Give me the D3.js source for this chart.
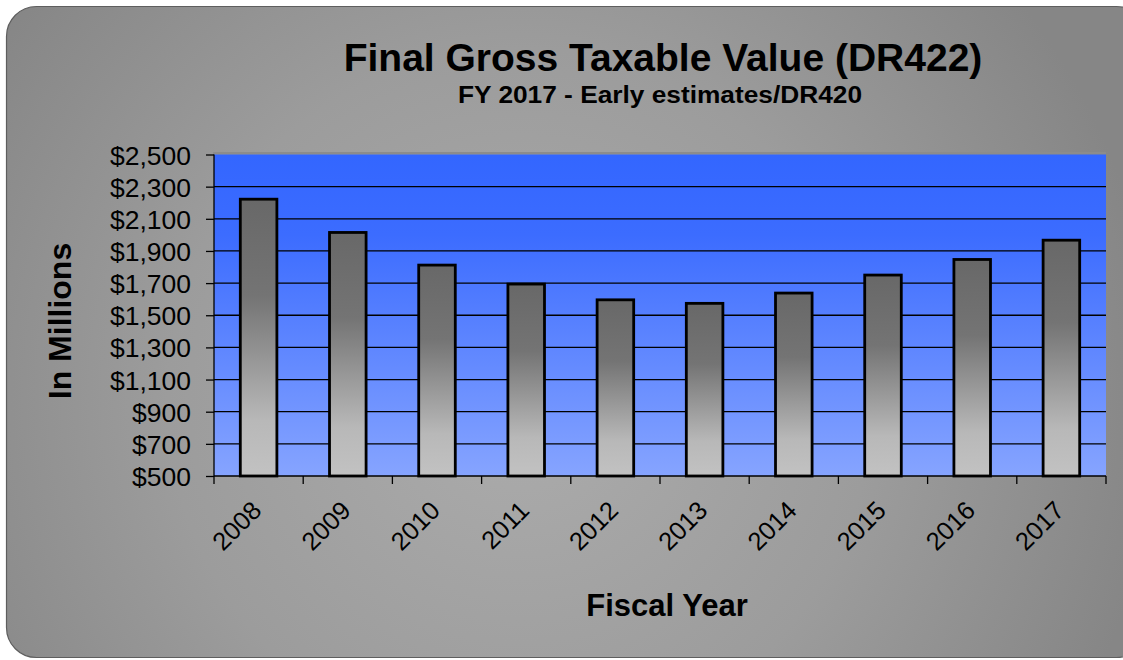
<!DOCTYPE html>
<html>
<head>
<meta charset="utf-8">
<script src="https://cdn.jsdelivr.net/npm/d3@7"></script>
<style>
  html, body { margin: 0; padding: 0; background: #ffffff; }
  svg { display: block; font-family: "Liberation Sans", Arial, sans-serif; }
</style>
</head>
<body>
<svg id="chart" width="1123" height="660"></svg>
<script>
// Final gross taxable value by fiscal year, in millions of dollars
const years = ["2008", "2009", "2010", "2011", "2012", "2013", "2014", "2015", "2016", "2017"];
const values = [2222, 2015, 1812, 1694, 1596, 1574, 1638, 1750, 1847, 1967];
const yTicks = [500, 700, 900, 1100, 1300, 1500, 1700, 1900, 2100, 2300, 2500];

const titleText = "Final Gross Taxable Value (DR422)";
const subtitleText = "FY 2017 - Early estimates/DR420";
const yTitle = "In Millions";
const xTitle = "Fiscal Year";

const svg = d3.select("#chart");
const defs = svg.append("defs");

// panel background: soft grey radial glow
const bg = defs.append("radialGradient").attr("id", "panelGrad")
  .attr("gradientUnits", "userSpaceOnUse")
  .attr("cx", 520).attr("cy", 400).attr("r", 640);
bg.append("stop").attr("offset", "0").attr("stop-color", "#acacac");
bg.append("stop").attr("offset", "0.55").attr("stop-color", "#9c9c9c");
bg.append("stop").attr("offset", "1").attr("stop-color", "#868686");

// plot area: blue, lighter toward the bottom
const plotGrad = defs.append("linearGradient").attr("id", "plotGrad")
  .attr("x1", 0).attr("y1", 0).attr("x2", 0).attr("y2", 1);
plotGrad.append("stop").attr("offset", "0").attr("stop-color", "#3366ff");
plotGrad.append("stop").attr("offset", "0.25").attr("stop-color", "#3c6cff");
plotGrad.append("stop").attr("offset", "1").attr("stop-color", "#86a4ff");

// bars: dark grey top fading to light grey bottom
const barGrad = defs.append("linearGradient").attr("id", "barGrad")
  .attr("x1", 0).attr("y1", 0).attr("x2", 0).attr("y2", 1);
barGrad.append("stop").attr("offset", "0").attr("stop-color", "#686868");
barGrad.append("stop").attr("offset", "0.35").attr("stop-color", "#747474");
barGrad.append("stop").attr("offset", "0.8").attr("stop-color", "#b8b8b8");
barGrad.append("stop").attr("offset", "1").attr("stop-color", "#c2c2c2");

svg.append("rect")
  .attr("x", 6.5).attr("y", 6.5).attr("width", 1140).attr("height", 651)
  .attr("rx", 30).attr("ry", 30)
  .attr("fill", "url(#panelGrad)")
  .attr("stroke", "#5e5e5e").attr("stroke-width", 1.2);

const plotLeft = 214, plotRight = 1106, plotTop = 154.5, plotBottom = 476;

const x = d3.scaleBand().domain(years).range([plotLeft, plotRight]).padding(0);
const y = d3.scaleLinear().domain([500, 2500]).range([plotBottom, plotTop]);

// plot area
svg.append("rect")
  .attr("x", plotLeft - 1).attr("y", plotTop - 2.5)
  .attr("width", plotRight - plotLeft + 1).attr("height", 2.5)
  .attr("fill", "#8c8c8c");
svg.append("rect")
  .attr("x", plotLeft).attr("y", plotTop)
  .attr("width", plotRight - plotLeft).attr("height", plotBottom - plotTop)
  .attr("fill", "url(#plotGrad)");

// gridlines
svg.append("g")
  .selectAll("line")
  .data(yTicks.filter(d => d > 500 && d < 2500))
  .join("line")
  .attr("x1", plotLeft).attr("x2", plotRight)
  .attr("y1", d => y(d)).attr("y2", d => y(d))
  .attr("stroke", "#000").attr("stroke-width", 1.3);

// bars
const barFrac = 0.41;
svg.append("g")
  .selectAll("rect")
  .data(years.map((yr, i) => ({ yr, v: values[i] })))
  .join("rect")
  .attr("x", d => x(d.yr) + x.bandwidth() * (1 - barFrac) / 2)
  .attr("y", d => y(d.v))
  .attr("width", x.bandwidth() * barFrac)
  .attr("height", d => y(500) - y(d.v))
  .attr("fill", "url(#barGrad)")
  .attr("stroke", "#000").attr("stroke-width", 2.8);

// y axis
const yAxis = svg.append("g")
  .attr("transform", `translate(${plotLeft},0)`)
  .call(d3.axisLeft(y).tickValues(yTicks).tickFormat(d3.format("$,")).tickSize(8).tickPadding(15));
yAxis.select(".domain").attr("stroke", "#000").attr("stroke-width", 1.3).attr("d", `M0,${plotTop}V${plotBottom}`);
yAxis.selectAll(".tick line").attr("stroke", "#000").attr("stroke-width", 1.3);
yAxis.selectAll(".tick text")
  .attr("fill", "#000").attr("font-size", 26.5)
  .attr("font-family", "'Liberation Sans', Arial, sans-serif")
  .attr("dy", "0.36em");

// x axis line and ticks at band boundaries
const xg = svg.append("g");
xg.append("line")
  .attr("x1", plotLeft).attr("x2", plotRight).attr("y1", plotBottom).attr("y2", plotBottom)
  .attr("stroke", "#000").attr("stroke-width", 1.3);
const boundaries = years.map(yr => x(yr)).concat([x(years[years.length - 1]) + x.bandwidth()]);
xg.selectAll("line.tk")
  .data(boundaries)
  .join("line").attr("class", "tk")
  .attr("x1", d => d).attr("x2", d => d)
  .attr("y1", plotBottom).attr("y2", plotBottom + 8)
  .attr("stroke", "#000").attr("stroke-width", 1.3);

// rotated year labels
xg.selectAll("text")
  .data(years)
  .join("text")
  .attr("transform", d => `translate(${x(d) + x.bandwidth() / 2 + 4.5},${plotBottom + 36}) rotate(-45)`)
  .attr("text-anchor", "end")
  .attr("font-size", 25.5)
  .attr("fill", "#000")
  .text(d => d);

// titles
svg.append("text")
  .attr("x", 663).attr("y", 71)
  .attr("text-anchor", "middle")
  .attr("font-size", 39).attr("font-weight", "bold").attr("fill", "#000")
  .text(titleText);
svg.append("text")
  .attr("x", 660).attr("y", 103)
  .attr("text-anchor", "middle")
  .attr("font-size", 23).attr("font-weight", "bold").attr("fill", "#000")
  .attr("textLength", 404).attr("lengthAdjust", "spacingAndGlyphs")
  .text(subtitleText);
svg.append("text")
  .attr("transform", "translate(71,321) rotate(-90)")
  .attr("text-anchor", "middle")
  .attr("font-size", 32).attr("font-weight", "bold").attr("fill", "#000")
  .text(yTitle);
svg.append("text")
  .attr("x", 667).attr("y", 616)
  .attr("text-anchor", "middle")
  .attr("font-size", 31).attr("font-weight", "bold").attr("fill", "#000")
  .text(xTitle);
</script>
</body>
</html>
